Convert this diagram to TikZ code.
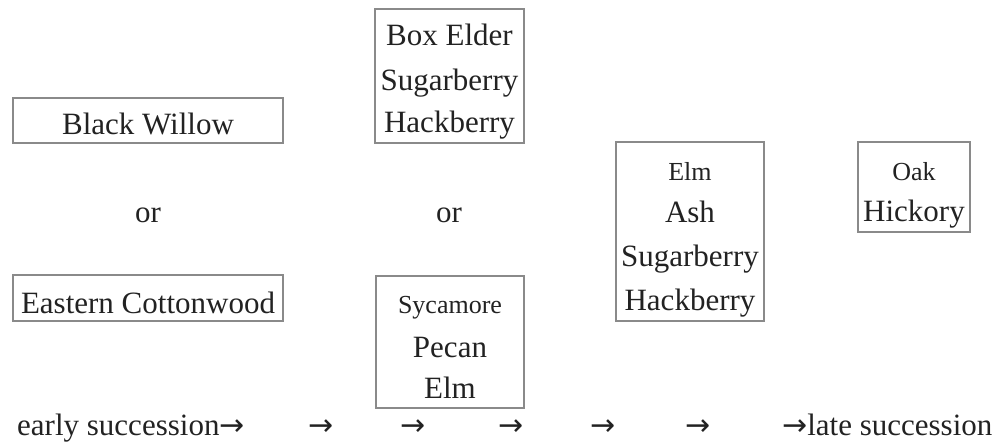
\documentclass[tikz,border=0pt]{standalone}
\usepackage{fontspec}
\setmainfont{Liberation Serif}
\newfontfamily\arrowfont{DejaVu Sans}
\newcommand{\succarrow}{{\arrowfont\fontsize{30}{34}\selectfont →}}
\definecolor{boxline}{HTML}{8A8A8A}
\definecolor{ink}{HTML}{222222}
\begin{document}
\begin{tikzpicture}[x=1pt,y=-1pt,
  box/.style={draw=boxline, line width=1.3pt, inner sep=0pt, minimum width=#1},
  big/.style={text=ink, inner sep=0pt, anchor=base, font=\fontsize{31}{37}\selectfont},
  small/.style={text=ink, inner sep=0pt, anchor=base, font=\fontsize{26}{31}\selectfont}]
\useasboundingbox (0,0) rectangle (1006,446);
% boxes
\node[box=270, minimum height=45] (bw) at (148,120.5) {};
\node[box=270, minimum height=46] (ec) at (148,298) {};
\node[box=149, minimum height=134] (be) at (449.5,76) {};
\node[box=148, minimum height=132] (sy) at (450,342) {};
\node[box=148, minimum height=179] (el) at (690,231.5) {};
\node[box=112, minimum height=90] (oh) at (914,187) {};
% column 1
\node[big] (t-bw) at (148,135) {Black Willow};
\node[big] (or1) at (148,223) {or};
\node[big] (t-ec) at (148,313) {Eastern Cottonwood};
% column 2
\node[big] (t-be1) at (449.5,46) {Box Elder};
\node[big] (t-be2) at (449.5,91) {Sugarberry};
\node[big] (t-be3) at (449.5,133) {Hackberry};
\node[big] (or2) at (449,223) {or};
\node[small] (t-sy1) at (450,313) {Sycamore};
\node[big] (t-sy2) at (450,357) {Pecan};
\node[big] (t-sy3) at (450,398) {Elm};
% column 3
\node[small] (t-el1) at (690,181) {Elm};
\node[big] (t-el2) at (690,223) {Ash};
\node[big] (t-el3) at (690,267) {Sugarberry};
\node[big] (t-el4) at (690,310) {Hackberry};
% column 4
\node[small] (t-oh1) at (914,181) {Oak};
\node[big] (t-oh2) at (914,222) {Hickory};
% succession line
\node[big, anchor=base west] (early) at (17,435) {early succession\succarrow};
\node[big] (a1) at (321,435) {\succarrow};
\node[big] (a2) at (413,435) {\succarrow};
\node[big] (a3) at (511,435) {\succarrow};
\node[big] (a4) at (603,435) {\succarrow};
\node[big] (a5) at (698,435) {\succarrow};
\node[big, anchor=base west] (late) at (782,435) {\succarrow late succession};
\end{tikzpicture}
\end{document}
